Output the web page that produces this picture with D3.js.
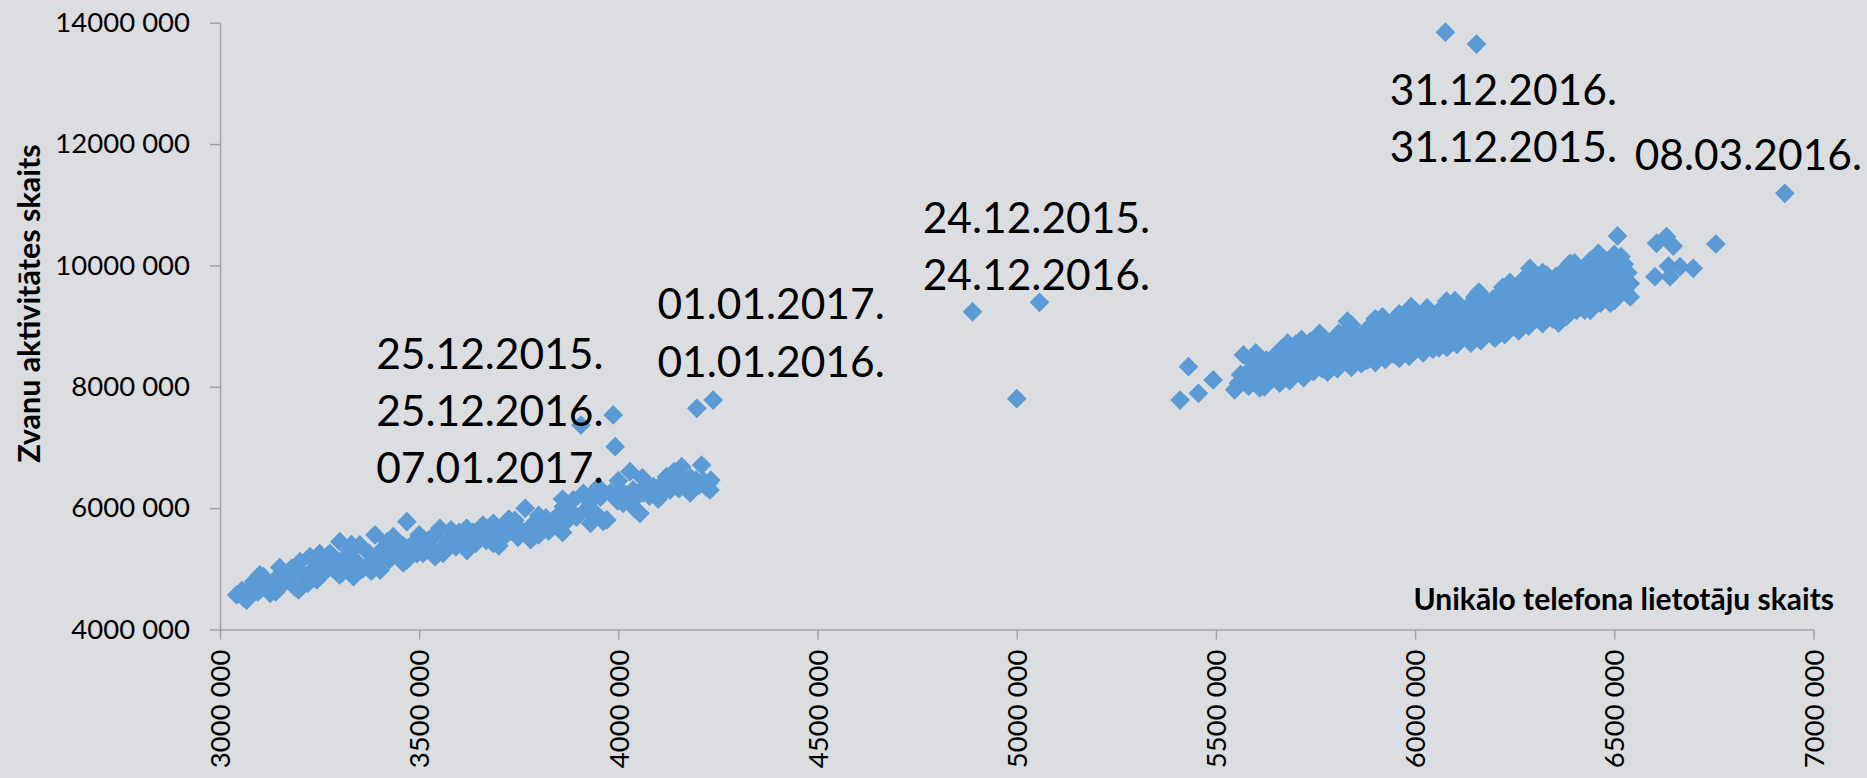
<!DOCTYPE html>
<html>
<head>
<meta charset="utf-8">
<script src="https://cdn.jsdelivr.net/npm/d3@7"></script>
<style>
  html, body { margin: 0; padding: 0; background: #dcdde0; }
  svg { display: block; font-family: Lato, "Open Sans", sans-serif; }
</style>
</head>
<body>
<div id="chart"></div>
<script>
// all values in thousands: [unikālo telefona lietotāju skaits, zvanu aktivitātes skaits]
const lowGroup = [
  [3042,4569],[3055,4640],[3067,4486],[3078,4700],[3084,4788],[3095,4620],[3109,4870],[3118,4720],
  [3126,4597],[3135,4800],[3142,4680],[3155,4926],[3163,4780],[3170,4850],[3180,5008],[3188,4700],
  [3197,4651],[3201,5117],[3210,4900],[3218,4820],[3226,5200],[3232,4980],[3243,4816],[3250,5060],
  [3258,4920],[3265,5150],[3276,5255],[3282,5010],[3290,5100],[3301,5447],[3305,4926],[3312,5180],
  [3320,5050],[3328,5300],[3335,4870],[3342,5120],[3351,5393],[3358,5000],[3368,5035],[3375,5250],
  [3380,5120],[3389,5558],[3395,5200],[3402,4980],[3410,5340],[3418,5310],[3425,5150],[3435,5530],
  [3440,5240],[3452,5228],[3460,5380],[3469,5777],[3469,5145],[3478,5300],[3485,5420],[3494,5250],
  [3502,5420],[3510,5255],[3518,5350],[3525,5480],[3534,5300],[3540,5560],[3552,5668],[3560,5255],
  [3566,5400],[3575,5470],[3585,5530],[3592,5360],[3600,5600],[3610,5450],[3619,5668],[3619,5365],
  [3628,5520],[3635,5600],[3642,5420],[3652,5530],[3660,5640],[3668,5470],[3676,5560],[3686,5750],
  [3686,5420],[3694,5600],[3700,5510],[3710,5680],[3718,5560],[3725,5820],[3732,5620],[3740,5700],
  [3748,5520],[3755,5640],[3766,5997],[3772,5580],[3780,5700],[3788,5620],[3795,5760],[3800,5560],
  [3810,5680],[3818,5840],[3825,5620],[3837,5805],[3845,5700],[3852,5900],[3862,6024],[3870,5780],
  [3878,5960],[3887,6135],[3895,5850],[3912,6245],[3920,5980],[3928,6100],[3937,6245],[3945,5900],
  [3955,6180],[3962,5780],[3971,5805],[3980,6250],[3998,6120],[4005,6300],[4012,6080],[4020,6220],
  [4029,6600],[4037,6299],[4045,6180],[4054,5915],[4062,6250],[4070,6380],[4078,6200],[4088,6353],
  [4095,6280],[4105,6220],[4112,6420],[4121,6518],[4130,6300],[4138,6400],[4146,6464],[4152,6320],
  [4159,6683],[4166,6420],[4175,6340],[4181,6500],[4188,6353],[4195,6460],[4203,6380],[4209,6710],
  [4215,6440],[4220,6350],[4226,6409],[4232,6460],
  [3100,4900],[3150,5020],[3250,5250],[3330,5400],[3420,5450],[3500,5560],[3580,5640],[3660,5720],
  [3740,5800],[3800,5880],[3860,6150],[3950,6350],[4000,6450],[4060,6500],[4140,6600],
  [3060,4520],[3140,4620],[3220,4760],[3300,4900],[3380,4960],[3460,5100],[3540,5200],[3620,5300],
  [3700,5380],[3780,5480],[3860,5600],[3930,5750],[4040,6000],[4100,6150],[4180,6250],[4230,6300]
];

const highGroup = [
  [5547,7950],[5556,8060],[5562,8200],[5569,8524],[5575,8130],[5582,8010],[5588,8300],[5595,8180],
  [5601,8080],[5608,8380],[5614,8220],[5620,8120],[5627,8440],[5633,8290],[5640,8160],[5646,8500],
  [5652,8330],[5658,8200],[5664,8620],[5670,8400],[5676,8250],[5682,8560],[5688,8330],[5694,8190],
  [5700,8700],[5706,8450],[5712,8300],[5718,8620],[5724,8390],[5730,8240],[5736,8740],[5742,8500],
  [5748,8350],[5754,8660],[5760,8440],[5766,8300],[5772,8800],[5778,8550],[5784,8380],[5790,8700],
  [5796,8480],[5802,8330],[5808,8880],[5814,8600],[5820,8440],[5826,8760],[5830,9080],[5832,8530],
  [5838,8400],[5850,8640],[5856,8480],[5862,8820],[5868,8580],[5874,8430],[5880,8950],[5886,8700],
  [5892,8520],[5898,8860],[5904,8640],[5910,8480],[5916,9000],[5922,8760],[5928,8580],[5934,8920],
  [5940,8700],[5946,8540],[5952,9060],[5958,8800],[5964,8620],[5970,8960],[5976,8740],[5982,8580],
  [5988,9120],[5994,8860],[6000,8680],[6006,9020],[6012,8800],[6018,8640],[6024,9180],[6030,8920],
  [6036,8740],[6042,9080],[6048,8860],[6054,8700],[6060,9250],[6066,8980],[6072,8780],[6079,9410],
  [6084,9120],[6090,8900],[6096,8740],[6102,9300],[6108,9040],[6114,8840],[6120,9200],[6126,8980],
  [6132,8800],[6138,9360],[6144,9100],[6150,8900],[6156,9280],[6162,9040],[6168,8860],[6174,9450],
  [6180,9160],[6186,8960],[6192,9360],[6198,9100],[6204,8920],[6210,9520],[6216,9240],[6222,9020],
  [6228,9420],[6234,9160],[6240,8980],[6246,9600],[6252,9320],[6258,9100],[6264,9500],[6270,9240],
  [6276,9060],[6282,9680],[6288,9400],[6294,9180],[6300,9580],[6306,9320],[6312,9140],[6318,9760],
  [6324,9480],[6330,9250],[6336,9660],[6342,9400],[6348,9200],[6354,9820],[6360,9560],[6366,9340],
  [6372,9720],[6378,9460],[6384,9280],[6390,9880],[6396,9620],[6402,9420],[6408,9780],[6414,9540],
  [6420,9360],[6426,9940],[6432,9680],[6438,9480],[6444,9840],[6450,9600],[6456,9420],[6462,10000],
  [6468,9740],[6474,9540],[6480,9900],[6486,9660],[6492,9500],[6498,10060],[6504,9800],[6510,9620],
  [6516,9940],[6522,9720],[6528,9560],[6534,9880],[6540,9700],
  [5590,8420],[5622,8000],[5655,8550],[5685,8100],[5715,8780],[5745,8250],[5775,8640],[5805,8300],
  [5835,8960],[5865,8380],[5895,9040],[5925,8450],[5955,8900],[5985,8500],[6015,9100],[6045,8620],
  [6075,9000],[6105,8700],[6135,9200],[6165,8760],[6195,9440],[6225,8860],[6255,9560],[6285,9000],
  [6315,9640],[6345,9120],[6375,9700],[6405,9260],[6435,9900],[6465,9380],[6495,9760],[6525,10020],
  [5918,9150],[6000,9250],[6060,8640],[6150,9480],[6213,8880],[6290,9780],[6330,9720],[6400,10040],
  [6470,10120],[6360,9050],[5700,8560],[5760,8720],[5880,8440],[5990,9320],[6238,9720],[6438,9300],
  [6490,9380],[6426,9265],[6460,10200],[6517,10143],[6389,10035],[6288,9953],[6330,9842],[6508,10485],
  [6602,9814],[6606,10365],[6631,10473],[6636,9990],[6640,9814],[6648,10320],[6665,9979],[6698,9953],
  [6755,10353],
  [5600,8560],[5680,8720],[5760,8880],[5840,9020],[5900,9120],[5960,9200],[6030,9300],[6100,9420],
  [6160,9560],[6220,9640],[6270,9760],[6320,9880],[6380,9960],[6440,10080],[6500,10180],
  [5610,7980],[5660,8060],[5720,8150],[5780,8240],[5840,8320],[5900,8400],[5960,8470],[6020,8560],
  [6080,8650],[6140,8720],[6200,8800],[6260,8920],[6320,9040],[6380,9160],[6440,9260],[6500,9420],
  [6540,9480]
];

const outliers = [
  [3906,7370],[3987,7535],[3992,7013],[4197,7645],[4238,7782],
  [4889,9235],[5057,9392],[5000,7804],
  [5410,7782],[5431,8331],[5456,7893],[5493,8112],
  [6076,13843],[6154,13647],[6928,11189]
];

const dateLabels = [
  "31.12.2016.", "31.12.2015.", "08.03.2016.",
  "24.12.2015.", "24.12.2016.",
  "01.01.2017.", "01.01.2016.",
  "25.12.2015.", "25.12.2016.", "07.01.2017."
];
// where each label starts (left edge, baseline), in the same thousands units
const labelAnchors = [
  [5936,12647],[5936,11704],[6551,11573],
  [4764,10528],[4764,9587],
  [4098,9117],[4098,8153],
  [3392,8293],[3392,7354],[3392,6414]
];

const xTicks = [3000, 3500, 4000, 4500, 5000, 5500, 6000, 6500, 7000];
const yTicks = [4000, 6000, 8000, 10000, 12000, 14000];

const W = 1867, H = 778;
const margin = { top: 22.7, right: 53.5, bottom: 148.5, left: 220 };

const svg = d3.select("#chart")
  .append("svg")
  .attr("width", W)
  .attr("height", H);

const x = d3.scaleLinear()
  .domain([3000, 7000])
  .range([margin.left, W - margin.right]);

const y = d3.scaleLinear()
  .domain([4000, 14000])
  .range([H - margin.bottom, margin.top]);

const fmt = d => `${d} 000`;

// axes
svg.append("g")
  .attr("transform", `translate(${margin.left},0)`)
  .call(d3.axisLeft(y).tickValues(yTicks).tickFormat(fmt).tickSize(10).tickSizeOuter(0).tickPadding(20));

const xAxis = svg.append("g")
  .attr("transform", `translate(0,${H - margin.bottom})`)
  .call(d3.axisBottom(x).tickValues(xTicks).tickFormat(fmt).tickSize(10).tickSizeOuter(0));

xAxis.selectAll("text")
  .attr("transform", "rotate(-90)")
  .attr("text-anchor", "end")
  .attr("x", -20)
  .attr("y", 0)
  .attr("dy", "0.35em");

svg.selectAll(".domain, .tick line")
  .attr("stroke", "#a3a3a3")
  .attr("stroke-width", 1.5);

svg.selectAll(".tick text")
  .attr("fill", "#000")
  .style("font-size", "27.5px")
  .style("font-family", "Lato, sans-serif");

// points
const diamond = d3.symbol().type(d3.symbolSquare).size(195);
const allPoints = lowGroup.concat(highGroup, outliers);

svg.append("g")
  .selectAll("path")
  .data(allPoints)
  .enter()
  .append("path")
  .attr("d", diamond)
  .attr("transform", d => `translate(${x(d[0])},${y(d[1])}) rotate(45)`)
  .attr("fill", "#5b9bd5");

// date labels
svg.append("g")
  .selectAll("text")
  .data(dateLabels)
  .enter()
  .append("text")
  .attr("x", (d, i) => x(labelAnchors[i][0]))
  .attr("y", (d, i) => y(labelAnchors[i][1]))
  .attr("fill", "#000")
  .style("font-size", "42.5px")
  .text(d => d);

// axis titles
svg.append("text")
  .attr("transform", `translate(40,303.5) rotate(-90)`)
  .attr("text-anchor", "middle")
  .style("font-size", "30.5px")
  .style("font-weight", "bold")
  .text("Zvanu aktivitātes skaits");

svg.append("text")
  .attr("x", 1834)
  .attr("y", 609.5)
  .attr("text-anchor", "end")
  .style("font-size", "30px")
  .style("font-weight", "bold")
  .text("Unikālo telefona lietotāju skaits");
</script>
</body>
</html>
